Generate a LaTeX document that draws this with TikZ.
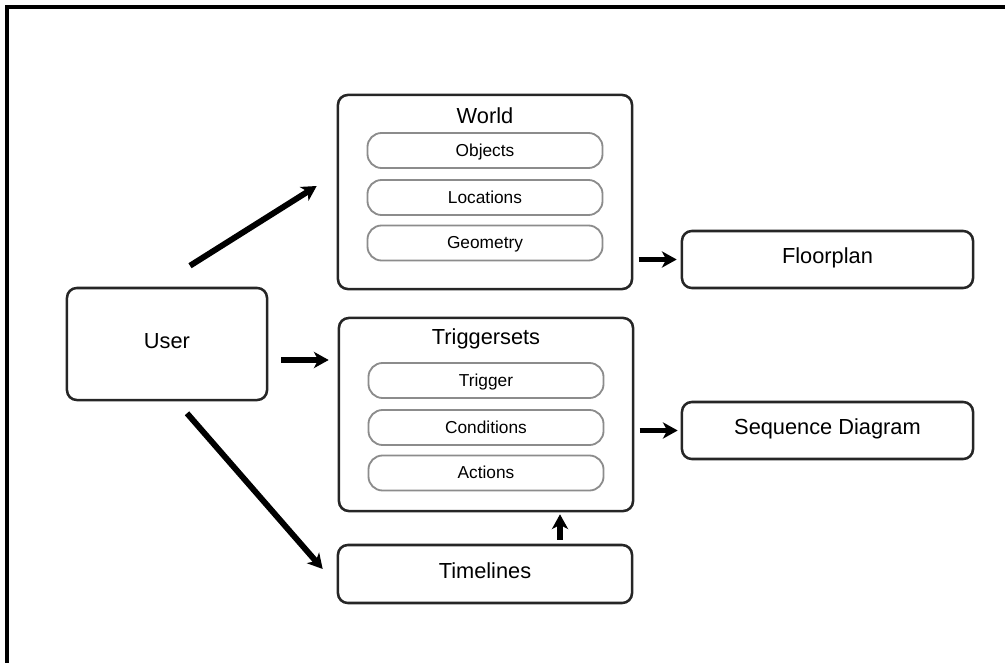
\documentclass[tikz,border=0pt]{standalone}
\usepackage{fontspec}
\setmainfont{Liberation Sans}
\usetikzlibrary{arrows.meta,calc}

\begin{document}
\begin{tikzpicture}[x=0.025cm,y=-0.025cm,>={Stealth[length=10.5pt,width=11.5pt,inset=3pt]},
  box/.style={draw=black!85,line width=1.8pt,rounded corners=7pt,inner sep=0pt,text height=1.5ex,text depth=.3ex,font=\fontsize{15.5}{18}\selectfont},
  sub/.style={draw=black!45,line width=1.3pt,rounded corners=10pt,minimum width=5.875cm,minimum height=0.875cm,inner sep=0pt,text height=1.7ex,text depth=.1ex,font=\fontsize{12.3}{14}\selectfont},
  title/.style={inner sep=0pt,text height=1.5ex,text depth=.3ex,font=\fontsize{15.5}{18}\selectfont},
  flow/.style={->,line width=4.2pt}]
\useasboundingbox (0,0) rectangle (1005,663);
\draw[line width=2.2pt] (7,663) -- (7,7) -- (1005,7);
% left column
\node[box,minimum width=5cm,minimum height=2.8cm] (user) at (167,344) {User};
% middle column
\node[box,minimum width=7.35cm,minimum height=4.85cm] (world) at (485,192) {};
\node[title] (worldtitle) at (485,119) {World};
\foreach \n/\t/\y in {obj/Objects/150.5,loc/Locations/197.5,geo/Geometry/243}{\node[sub] (\n) at (485,\y) {\t};}
\node[box,minimum width=7.35cm,minimum height=4.825cm] (trig) at (486,414.5) {};
\node[title] (trigtitle) at (486,340) {Triggersets};
\foreach \n/\t/\y in {trg/Trigger/380.5,cond/Conditions/427.5,act/Actions/473}{\node[sub] (\n) at (486,\y) {\t};}
\node[box,minimum width=7.35cm,minimum height=1.45cm] (time) at (485,574) {Timelines};
% right column
\node[box,minimum width=7.275cm,minimum height=1.425cm] (floor) at (827.5,259.5) {Floorplan};
\node[box,minimum width=7.275cm,minimum height=1.425cm] (seq) at (827.5,430.5) {Sequence Diagram};
% arrows
\draw[flow] ($(user.north)+(23,-21)$) -- ($(world.west)+(-20,-6)$);
\draw[flow] ($(user.east)+(13,16)$) -- ($(trig.west)+(-9,-54.5)$);
\draw[flow] ($(user.south)+(20,12)$) -- ($(time.west)+(-14,-5)$);
\draw[flow] ($(floor.west)+(-42,0)$) -- ($(floor.west)+(-4,0)$);
\draw[flow] ($(seq.west)+(-41,0)$) -- ($(seq.west)+(-3,0)$);
\draw[flow] ($(time.north)+(75,-4)$) -- ($(trig.south)+(74,2)$);
\end{tikzpicture}
\end{document}
